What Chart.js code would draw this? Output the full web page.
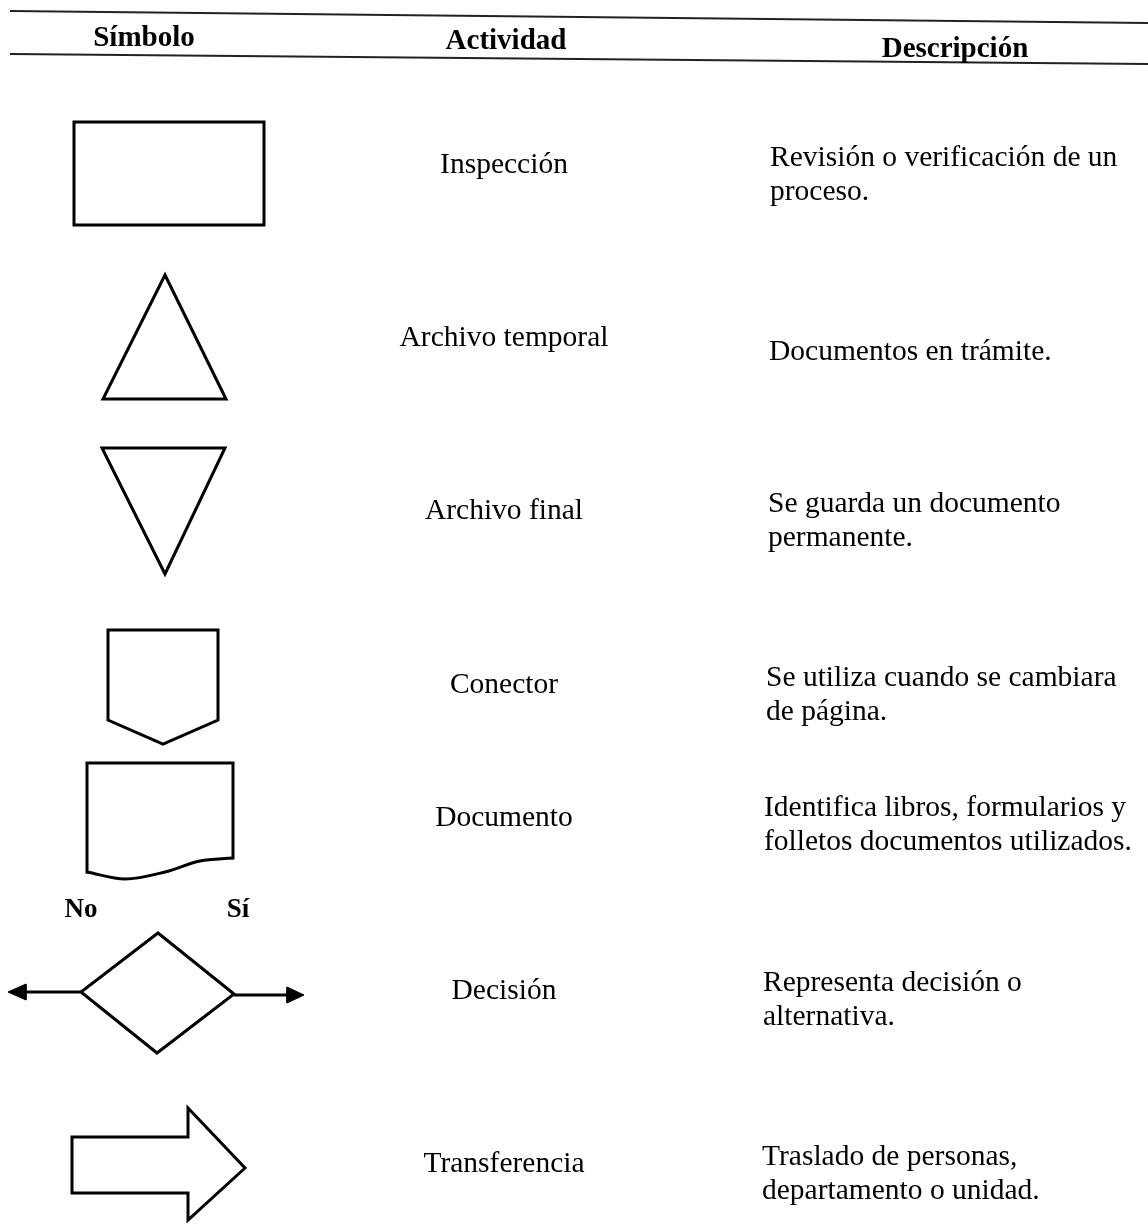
<!DOCTYPE html>
<html>
<head>
<meta charset="utf-8">
<script src="https://cdn.jsdelivr.net/npm/chart.js@4/dist/chart.umd.min.js"></script>
<style>
  html, body { margin: 0; padding: 0; background: #fff; }
  #wrap { width: 1148px; height: 1224px; position: relative; }
</style>
</head>
<body>
<div id="wrap"><canvas id="c" width="1148" height="1224"></canvas></div>
<script>
// ---- Table content ----
const headers = ["Símbolo", "Actividad", "Descripción"];
const activities = ["Inspección", "Archivo temporal", "Archivo final", "Conector", "Documento", "Decisión", "Transferencia"];
const descriptions = [
  ["Revisión o verificación de un", "proceso."],
  ["Documentos en trámite."],
  ["Se guarda un documento", "permanente."],
  ["Se utiliza cuando se cambiara", "de página."],
  ["Identifica libros, formularios y", "folletos documentos utilizados."],
  ["Representa decisión o", "alternativa."],
  ["Traslado de personas,", "departamento o unidad."]
];
const decisionLabels = ["No", "Sí"];

// ---- Symbol outlines (in chart units) ----
const ruleTop = [[10, 11], [1148, 23]];
const ruleBottom = [[10, 54], [1148, 64]];
const inspeccion = [[74, 122], [264, 122], [264, 225], [74, 225], [74, 122]];
const archivoTemporal = [[165, 275], [226, 399], [103, 399], [165, 275]];
const archivoFinal = [[102, 448], [225, 448], [165, 574], [102, 448]];
const conector = [[108, 630], [218, 630], [218, 720], [163, 744], [108, 720], [108, 630]];
const documentoSides = [[233, 858], [233, 763], [87, 763], [87, 872]];
const documentoCurve = [[87, 872], [125, 879], [165, 872], [200, 861], [233, 858]];
const decision = [[158, 933], [234, 994], [157, 1053], [81, 992], [158, 933]];
const decisionLeftLine = [[81, 992], [24, 992]];
const decisionRightLine = [[234, 995], [289, 995]];
const leftHead = [[8, 992], [26, 984], [26, 1000], [8, 992]];
const rightHead = [[304, 995], [287, 987], [287, 1003], [304, 995]];
const transferencia = [[72, 1137], [188, 1137], [188, 1108], [245, 1168], [188, 1220], [188, 1193], [72, 1193], [72, 1137]];

// ---- Layout of text (chart units) ----
const headerX = [144, 506, 955];
const headerY = [46, 49, 57];
const activityX = 504;
const activityY = [173, 346, 519, 693, 826, 999, 1172];
const descX = [770, 769, 768, 766, 764, 763, 762];
const descY = [166, 360, 512, 686, 816, 991, 1165];
const descLine = 34;
const decisionLabelX = [81, 238];
const decisionLabelY = 917;

const toPts = a => a.map(p => ({x: p[0], y: p[1]}));
function outline(arr, w, extra) {
  return Object.assign({
    data: toPts(arr), showLine: true, pointRadius: 0, borderColor: '#000',
    borderWidth: w, fill: false, tension: 0, clip: false,
    borderJoinStyle: 'miter'
  }, extra || {});
}
// closed outline: repeat the second vertex so the starting corner gets a proper join
const closed = a => a.concat([a[1]]);

const datasets = [
  outline(ruleTop, 2, {borderColor: '#222'}),
  outline(ruleBottom, 2, {borderColor: '#222'}),
  outline(closed(inspeccion), 3),
  outline(closed(archivoTemporal), 3),
  outline(closed(archivoFinal), 3),
  outline(closed(conector), 3),
  outline(documentoSides, 3, {borderCapStyle: 'square'}),
  outline(documentoCurve, 3, {cubicInterpolationMode: 'monotone'}),
  outline(closed(decision), 3),
  outline(decisionLeftLine, 3),
  outline(decisionRightLine, 3),
  outline(leftHead, 1, {fill: 'shape', backgroundColor: '#000'}),
  outline(rightHead, 1, {fill: 'shape', backgroundColor: '#000'}),
  outline(closed(transferencia), 3)
];

const textPlugin = {
  id: 'tableText',
  afterDatasetsDraw(chart) {
    const ctx = chart.ctx, sx = chart.scales.x, sy = chart.scales.y;
    const X = v => sx.getPixelForValue(v), Y = v => sy.getPixelForValue(v);
    ctx.save();
    ctx.fillStyle = '#000';
    ctx.textBaseline = 'alphabetic';
    ctx.font = 'bold 29px "Liberation Serif", "Times New Roman", serif';
    ctx.textAlign = 'center';
    headers.forEach((h, i) => ctx.fillText(h, X(headerX[i]), Y(headerY[i])));
    ctx.font = 'bold 27px "Liberation Serif", "Times New Roman", serif';
    decisionLabels.forEach((h, i) => ctx.fillText(h, X(decisionLabelX[i]), Y(decisionLabelY)));
    ctx.font = '29.5px "Liberation Serif", "Times New Roman", serif';
    activities.forEach((a, i) => ctx.fillText(a, X(activityX), Y(activityY[i])));
    ctx.textAlign = 'left';
    descriptions.forEach((lines, i) => {
      lines.forEach((l, j) => ctx.fillText(l, X(descX[i]), Y(descY[i] + j * descLine)));
    });
    ctx.restore();
  }
};

new Chart(document.getElementById('c'), {
  type: 'scatter',
  data: { datasets },
  options: {
    responsive: false,
    animation: false,
    events: [],
    layout: { padding: 0 },
    plugins: { legend: { display: false }, tooltip: { enabled: false } },
    scales: {
      x: { type: 'linear', min: 0, max: 1148, display: false },
      y: { type: 'linear', min: 0, max: 1224, reverse: true, display: false }
    }
  },
  plugins: [textPlugin]
});
</script>
</body>
</html>
